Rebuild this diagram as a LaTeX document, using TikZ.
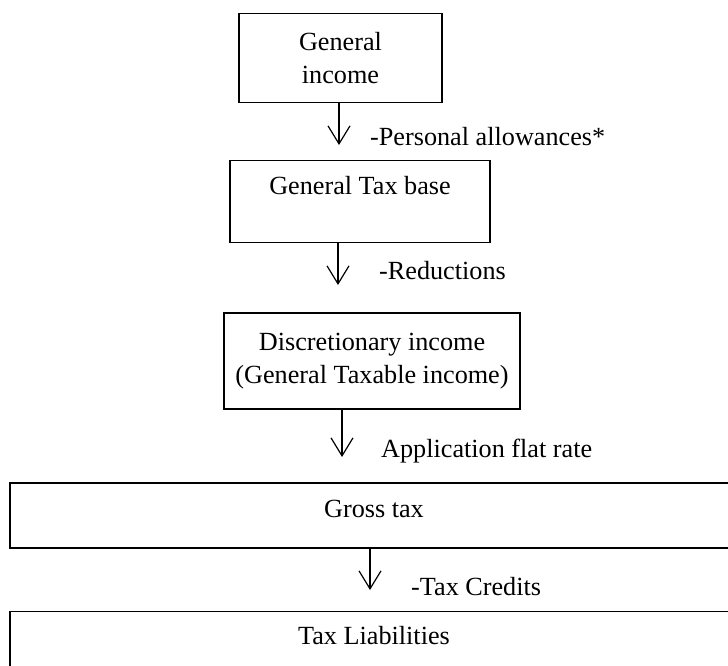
\documentclass[tikz,border=0pt]{standalone}
\usepackage{fontspec}
\setmainfont{Liberation Serif}
\usetikzlibrary{arrows.meta,positioning}
\tikzset{box/.style={rectangle,draw,line width=1.2pt,align=center,inner sep=0pt,font=\fontsize{26.2}{32.5}\selectfont},note/.style={anchor=base west,inner sep=0pt,font=\fontsize{26.2}{32.5}\selectfont},flow/.style={-{Straight Barb[length=18pt,width=22pt,line width=1.2pt]},line width=1.2pt}}

\begin{document}
\begin{tikzpicture}[x=1pt,y=-1pt]
\path[use as bounding box,clip] (0,0) rectangle (728,666);
\node[box,minimum width=203,minimum height=89] (inc) at (340.5,58) {General\\income};
\node[box,minimum width=260,minimum height=82,text depth=4pt] (base) at (360,201.5) {General Tax base\\[-4pt]~};
\node[box,minimum width=296,minimum height=96] (disc) at (372,361) {Discretionary income\\(General Taxable income)};
\node[box,minimum width=728,minimum height=65,text depth=13pt] (gross) at (374,515.5) {Gross tax};
\node[box,minimum width=728,minimum height=60,text depth=13pt,anchor=north] (liab) at (374,611) {Tax Liabilities};
\coordinate (a1) at (339,145);
\coordinate (a2) at (338,285);
\coordinate (a3) at (342,457);
\coordinate (a4) at (370,590);
\draw[flow] (inc.south -| a1)--(a1);
\draw[flow] (base.south -| a2)--(a2);
\draw[flow] (disc.south -| a3)--(a3);
\draw[flow] (gross.south -| a4)--(a4);
\node[note] (l1) at (370,146) {-Personal allowances*};
\node[note] (l2) at (379,279) {-Reductions};
\node[note] (l3) at (381,457) {Application flat rate};
\node[note] (l4) at (411,595) {-Tax Credits};
\end{tikzpicture}
\end{document}
